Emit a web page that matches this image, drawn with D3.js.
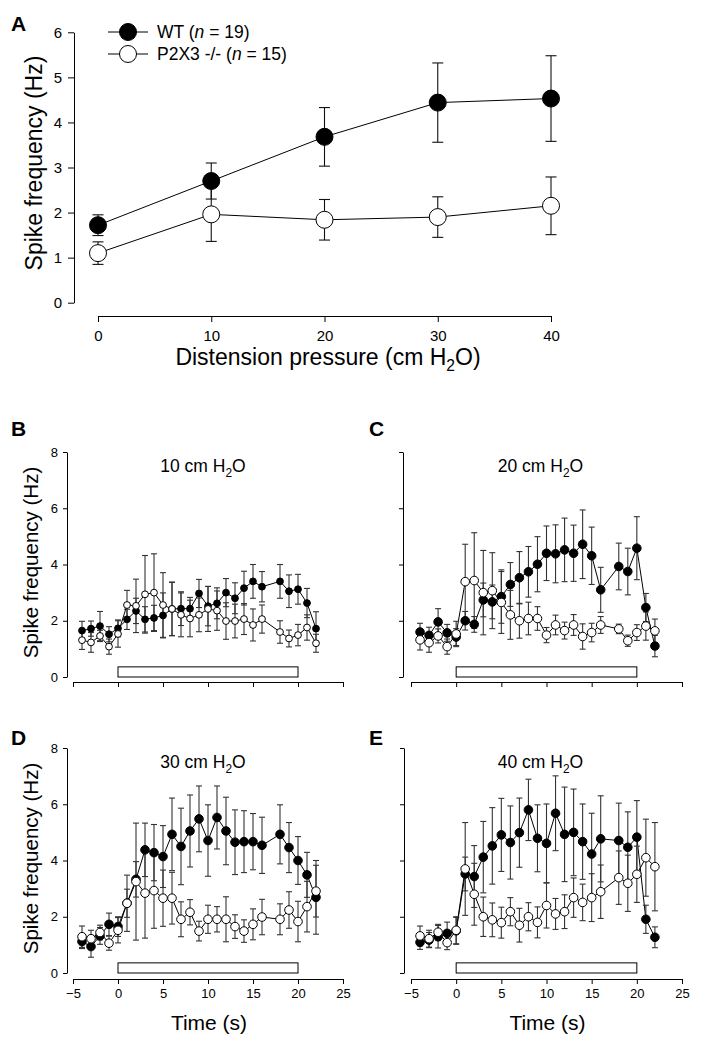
<!DOCTYPE html>
<html><head><meta charset="utf-8">
<script src="https://cdn.jsdelivr.net/npm/d3@7"></script>
<style>
html,body{margin:0;padding:0;background:#fff;}
svg{display:block;font-family:"Liberation Sans",Arial,Helvetica,sans-serif;}
</style></head>
<body><svg id="chart" width="701" height="1047"></svg>
<script>
// ---------- Panel A data ----------
const pressures = [0, 10, 20, 30, 40];
const wtA    = [1.72, 2.70, 3.68, 4.44, 4.53];
const wtAErr = [0.23, 0.40, 0.65, 0.88, 0.95];
const koA    = [1.10, 1.96, 1.84, 1.90, 2.15];
const koAErr = [0.25, 0.60, 0.45, 0.45, 0.64];
const ticksA_y = [0, 1, 2, 3, 4, 5, 6];
const ticksA_x = [0, 10, 20, 30, 40];
const legendLabels = ["WT", "P2X3 -/-"];
const legendN = [19, 15];

// ---------- Time-course data (B–E) ----------
const times = [-4,-3,-2,-1,0,1,2,3,4,5,6,7,8,9,10,11,12,13,14,15,16,18,19,20,21,22];
const wt10    = [1.65,1.72,1.81,1.52,1.73,2.05,2.35,2.05,2.10,2.19,2.42,2.43,2.43,2.97,2.52,2.62,3.00,2.80,3.16,3.40,3.21,3.40,3.05,3.12,2.63,1.72];
const wt10Err = [0.33,0.27,0.52,0.27,0.30,0.36,0.45,0.45,0.45,0.80,0.95,0.60,0.40,0.50,0.70,0.55,0.50,0.55,0.60,0.60,0.54,0.60,0.58,0.53,0.52,0.60];
const ko10    = [1.31,1.23,1.46,1.08,1.53,2.56,2.53,2.94,3.00,2.56,2.42,2.21,2.08,2.21,2.42,2.36,1.99,1.99,2.06,1.85,2.06,1.60,1.37,1.49,1.76,1.20];
const ko10Err = [0.33,0.35,0.20,0.27,0.47,0.52,0.95,1.38,1.38,1.15,0.95,0.78,0.65,0.60,0.80,0.70,0.65,0.60,0.55,0.57,0.50,0.40,0.30,0.38,0.45,0.32];

const wt20    = [1.60,1.48,1.96,1.57,1.42,2.00,1.87,2.74,2.67,2.86,3.29,3.53,3.74,4.01,4.40,4.38,4.52,4.40,4.72,4.31,3.10,3.93,3.75,4.58,2.47,1.10];
const wt20Err = [0.31,0.29,0.47,0.30,0.30,0.33,0.28,0.60,0.60,0.95,0.78,0.93,0.90,0.98,0.97,1.03,1.13,1.00,1.22,1.02,0.80,0.83,0.83,1.12,0.50,0.38];
const ko20    = [1.32,1.22,1.46,1.08,1.53,3.39,3.43,3.00,3.07,2.65,2.21,2.00,2.08,2.08,1.49,1.85,1.65,1.85,1.44,1.58,1.85,1.71,1.29,1.58,1.81,1.64];
const ko20Err = [0.36,0.34,0.25,0.27,0.45,1.33,1.70,1.50,1.35,1.10,0.87,0.62,0.58,0.42,0.27,0.35,0.30,0.37,0.45,0.33,0.30,0.17,0.20,0.28,0.50,0.42];

const wt30    = [1.12,0.94,1.32,1.73,1.65,2.48,3.33,4.38,4.28,4.14,4.93,4.50,5.05,5.48,4.71,5.53,5.05,4.65,4.67,4.67,4.54,4.93,4.46,4.00,3.49,2.69];
const wt30Err = [0.25,0.38,0.30,0.40,0.35,0.50,0.63,0.95,1.00,1.10,1.29,1.36,1.28,1.17,1.27,1.12,1.20,1.15,1.10,1.00,1.00,1.05,0.89,0.85,0.80,1.31];
const ko30    = [1.29,1.22,1.44,1.06,1.52,2.48,3.25,2.84,2.93,2.66,2.66,1.91,2.16,1.49,1.91,1.91,1.91,1.65,1.49,1.73,1.99,1.91,2.24,1.83,2.36,2.91];
const ko30Err = [0.38,0.30,0.26,0.25,0.45,1.00,2.08,1.60,1.34,1.00,0.92,0.62,0.45,0.35,0.50,0.45,0.80,0.42,0.40,0.55,0.63,0.55,0.65,0.72,0.90,0.92];

const wt40    = [1.09,1.17,1.29,1.41,1.50,3.52,3.43,4.12,4.52,4.91,4.64,4.99,5.80,4.79,4.61,5.68,4.93,5.00,4.67,4.23,4.77,4.71,4.47,4.83,1.91,1.27];
const wt40Err = [0.25,0.27,0.40,0.40,0.48,0.60,1.10,1.27,1.36,1.30,1.30,1.23,1.09,1.19,1.40,1.33,1.68,1.54,1.34,1.45,1.53,1.33,1.26,1.30,0.50,0.37];
const ko40    = [1.32,1.22,1.45,1.08,1.52,3.70,2.80,2.00,1.89,1.79,2.18,1.70,2.00,1.80,2.40,2.10,2.18,2.68,2.51,2.68,2.89,3.39,3.19,3.51,4.10,3.78];
const ko40Err = [0.35,0.30,0.28,0.25,0.48,1.65,1.10,0.70,0.60,0.55,0.50,0.60,0.50,0.55,0.80,0.55,0.60,0.70,0.65,0.85,0.95,0.95,1.00,1.00,1.37,1.57];

const stimulus = [0, 20];      // distension period (s)
const stimHeight = 0.36;       // bar height in Hz units
const ticksT_x = [-5, 0, 5, 10, 15, 20, 25];
const ticksT_y = [0, 2, 4, 6, 8];
const panelPressures = [10, 20, 30, 40];

// ---------- drawing ----------
const svg = d3.select("#chart");

function subText(g, x, y, pre, sub, post, size, anchor, rotate) {
  const t = g.append("text").attr("x", x).attr("y", y)
    .attr("font-size", size).attr("text-anchor", anchor || "middle").attr("fill", "#000");
  if (rotate) t.attr("transform", `rotate(${rotate},${x},${y})`);
  t.append("tspan").text(pre);
  if (sub) {
    t.append("tspan").attr("font-size", size * 0.68).attr("dy", size * 0.28).text(sub);
    t.append("tspan").attr("dy", -size * 0.28).text(post);
  }
  return t;
}

function styleAxis(g, fs) {
  g.selectAll("path.domain").attr("stroke", "#000").attr("stroke-width", 1);
  g.selectAll(".tick line").attr("stroke", "#000").attr("stroke-width", 1);
  g.selectAll(".tick text").attr("fill", "#000").attr("font-size", fs)
    .attr("font-family", '"Liberation Sans",Arial,sans-serif');
}

function drawSeries(g, xs, ys, errs, x, y, r, filled, cap, errColor) {
  const pts = xs.map((t, i) => ({t, v: ys[i], e: errs[i]}));
  g.append("path").datum(pts)
    .attr("fill", "none").attr("stroke", "#000").attr("stroke-width", 1)
    .attr("d", d3.line().x(d => x(d.t)).y(d => y(d.v)));
  const eb = g.append("g").attr("stroke", errColor).attr("stroke-width", 1.1);
  pts.forEach(d => {
    eb.append("line").attr("x1", x(d.t)).attr("x2", x(d.t)).attr("y1", y(d.v - d.e)).attr("y2", y(d.v + d.e));
    eb.append("line").attr("x1", x(d.t) - cap/2).attr("x2", x(d.t) + cap/2).attr("y1", y(d.v + d.e)).attr("y2", y(d.v + d.e));
    eb.append("line").attr("x1", x(d.t) - cap/2).attr("x2", x(d.t) + cap/2).attr("y1", y(d.v - d.e)).attr("y2", y(d.v - d.e));
  });
  return pts;
}
function drawMarkers(g, pts, x, y, r, filled) {
  g.selectAll(null).data(pts).enter().append("circle")
    .attr("cx", d => x(d.t)).attr("cy", d => y(d.v)).attr("r", r)
    .attr("fill", filled ? "#000" : "#fff").attr("stroke", "#000").attr("stroke-width", 1);
}

// ---------- Panel A ----------
{
  const g = svg.append("g");
  const x = d3.scaleLinear().domain([0, 40]).range([98, 551]);
  const y = d3.scaleLinear().domain([0, 6]).range([302.7, 32.3]);
  const ya = g.append("g").attr("transform", "translate(74,0)")
    .call(d3.axisLeft(y).tickValues(ticksA_y).tickSize(6).tickSizeOuter(0).tickPadding(6).tickFormat(d3.format("d")));
  styleAxis(ya, 15);
  const xa = g.append("g").attr("transform", "translate(0,316)")
    .call(d3.axisBottom(x).tickValues(ticksA_x).tickSize(6).tickSizeOuter(0).tickPadding(8).tickFormat(d3.format("d")));
  styleAxis(xa, 15);
  const p1 = drawSeries(g, pressures, wtA, wtAErr, x, y, 8.5, true, 11, "#111");
  const p2 = drawSeries(g, pressures, koA, koAErr, x, y, 8.5, false, 11, "#111");
  drawMarkers(g, p1, x, y, 8.5, true);
  drawMarkers(g, p2, x, y, 8.5, false);
  // legend
  [[32, true], [54, false]].forEach(([ly, f], i) => {
    g.append("line").attr("x1", 108).attr("x2", 148).attr("y1", ly).attr("y2", ly).attr("stroke", "#000");
    g.append("circle").attr("cx", 128).attr("cy", ly).attr("r", 8.5)
      .attr("fill", f ? "#000" : "#fff").attr("stroke", "#000");
    const t = g.append("text").attr("x", 157).attr("y", ly + 6).attr("font-size", 17.5);
    t.append("tspan").text(legendLabels[i] + " (");
    t.append("tspan").attr("font-style", "italic").text("n");
    t.append("tspan").text(" = " + legendN[i] + ")");
  });
  g.append("text").attr("x", 11).attr("y", 31).attr("font-size", 21).attr("font-weight", "bold").text("A");
  subText(g, 328, 365, "Distension pressure (cm H", "2", "O)", 23, "middle");
  g.append("text").attr("x", 0).attr("y", 0).attr("font-size", 23).attr("text-anchor", "middle")
    .attr("transform", "translate(42,163) rotate(-90)").text("Spike frequency (Hz)");
}

// ---------- Panels B–E ----------
const panels = [
  {L: "B", yAx: 67,  x0: 73,  x1: 343, y0: 677, y1: 452, xAxY: 682, wt: wt10, wtE: wt10Err, ko: ko10, koE: ko10Err, yLab: true,  xLab: false, r: 3.4, lx: 11,  ly: 436},
  {L: "C", yAx: 403, x0: 411, x1: 682, y0: 677, y1: 452, xAxY: 682, wt: wt20, wtE: wt20Err, ko: ko20, koE: ko20Err, yLab: false, xLab: false, r: 4.3, lx: 369, ly: 436},
  {L: "D", yAx: 67,  x0: 73,  x1: 343, y0: 973, y1: 748, xAxY: 979, wt: wt30, wtE: wt30Err, ko: ko30, koE: ko30Err, yLab: true,  xLab: true,  r: 4.3, lx: 11,  ly: 745},
  {L: "E", yAx: 404, x0: 411, x1: 682, y0: 973, y1: 748, xAxY: 979, wt: wt40, wtE: wt40Err, ko: ko40, koE: ko40Err, yLab: false, xLab: true,  r: 4.3, lx: 369, ly: 745}
];

panels.forEach((p, i) => {
  const g = svg.append("g");
  const x = d3.scaleLinear().domain([-5, 25]).range([p.x0, p.x1]);
  const y = d3.scaleLinear().domain([0, 8]).range([p.y0, p.y1]);
  const ya = g.append("g").attr("transform", `translate(${p.yAx},0)`)
    .call(d3.axisLeft(y).tickValues(ticksT_y).tickSize(4).tickSizeOuter(0).tickPadding(5)
      .tickFormat(p.yLab ? d3.format("d") : ""));
  styleAxis(ya, 13);
  const xa = g.append("g").attr("transform", `translate(0,${p.xAxY})`)
    .call(d3.axisBottom(x).tickValues(ticksT_x).tickSize(5).tickSizeOuter(0).tickPadding(5)
      .tickFormat(p.xLab ? (d => d < 0 ? "\u2212" + Math.abs(d) : String(d)) : ""));
  styleAxis(xa, 13);
  // stimulus bar
  g.append("rect").attr("x", x(stimulus[0])).attr("y", y(stimHeight))
    .attr("width", x(stimulus[1]) - x(stimulus[0])).attr("height", y(0) - y(stimHeight))
    .attr("fill", "#fff").attr("stroke", "#000").attr("stroke-width", 1);
  const a = drawSeries(g, times, p.wt, p.wtE, x, y, p.r, true, 6, "#333");
  const b = drawSeries(g, times, p.ko, p.koE, x, y, p.r, false, 6, "#333");
  drawMarkers(g, a, x, y, p.r, true);
  drawMarkers(g, b, x, y, p.r, false);
  subText(g, (p.x0 + p.x1) / 2 - 5 + (p.L === "B" || p.L === "D" ? 0 : -1), p.y1 + 20, panelPressures[i] + " cm H", "2", "O", 17.5, "middle");
  g.append("text").attr("x", p.lx).attr("y", p.ly).attr("font-size", 21).attr("font-weight", "bold").text(p.L);
  if (p.yLab) {
    g.append("text").attr("font-size", 20.5).attr("text-anchor", "middle")
      .attr("transform", `translate(38,${(p.y0 + p.y1) / 2 - 2}) rotate(-90)`).text("Spike frequency (Hz)");
  }
  if (p.xLab) {
    g.append("text").attr("x", (p.x0 + p.x1) / 2 + 1).attr("y", 1030).attr("font-size", 21)
      .attr("text-anchor", "middle").text("Time (s)");
  }
});
</script></body></html>
